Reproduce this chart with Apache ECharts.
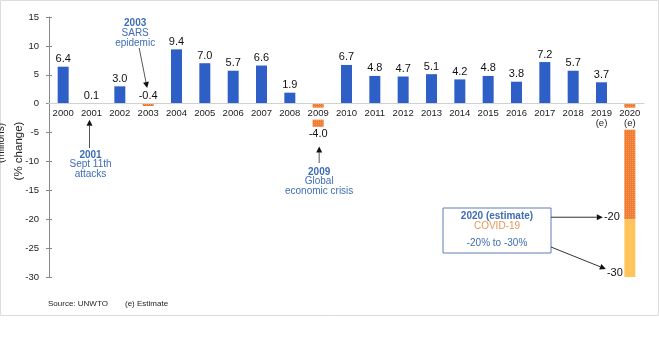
<!DOCTYPE html>
<html><head><meta charset="utf-8">
<script src="https://cdn.jsdelivr.net/npm/echarts@6/dist/echarts.min.js"></script>
<style>html,body{margin:0;padding:0;background:#fff}#c{width:659px;height:337px}</style>
</head><body><div id="c"></div>
<script>
// ---- data ----
const years = ['2000','2001','2002','2003','2004','2005','2006','2007','2008','2009','2010',
  '2011','2012','2013','2014','2015','2016','2017','2018','2019\n(e)','2020\n(e)'];
const growth = [6.4,0.1,3.0,null,9.4,7.0,5.7,6.6,1.9,null,6.7,4.8,4.7,5.1,4.2,4.8,3.8,7.2,5.7,3.7,null];
const declines = [null,null,null,-0.4,null,null,null,null,null,-4.0,null,null,null,null,null,null,null,null,null,null,-20];
const covidExtra = [null,null,null,null,null,null,null,null,null,null,null,null,null,null,null,null,null,null,null,null,-10];
const declineLabelPos = {3:'top', 9:'bottom'};
const yMin = -30, yMax = 15, yStep = 5;

const FONT = 'Liberation Sans, Arial, sans-serif';
const BLUE = '#2E5FC6';
const ORANGE = '#EF7A30';
const LIGHT = '#FFC55C';
const ANN = '#3E6DB5';

const chart = echarts.init(document.getElementById('c'));
const option = {
  animation: false,
  textStyle: {fontFamily: FONT},
  grid: {left: 49, right: 15, top: 17, bottom: 60, containLabel: false},
  xAxis: {
    type: 'category', data: years, z: 10,
    axisLine: {onZero: false, lineStyle: {color: '#d0d0d0', width: 1}},
    axisTick: {show: false},
    axisLabel: {color: '#222', fontSize: 9.5, margin: 4, lineHeight: 10,
      backgroundColor: '#fff', padding: [1, 0, 1, 0], interval: 0}
  },
  yAxis: [{
    type: 'value', min: yMin, max: yMax, interval: yStep,
    splitLine: {show: false},
    axisLine: {show: true, lineStyle: {color: '#888'}},
    axisTick: {show: true, length: 3, lineStyle: {color: '#888'}},
    axisLabel: {color: '#222', fontSize: 9.5, margin: 10}
  }, {
    type: 'value', min: yMin, max: yMax, interval: yStep, position: 'left',
    splitLine: {show: false},
    axisLine: {show: false},
    axisTick: {show: true, inside: true, length: 3, lineStyle: {color: '#888'}},
    axisLabel: {show: false}
  }],
  series: [{
    type: 'bar', stack: 's', data: growth, barWidth: 11,
    itemStyle: {color: BLUE},
    label: {show: true, position: 'top', distance: 2, color: '#111', fontSize: 11,
      formatter: p => p.value.toFixed(1)}
  }, {
    type: 'bar', stack: 's', barWidth: 11,
    data: declines.map((v, i) => ({
      value: v,
      label: declineLabelPos[i] ? {show: true, position: declineLabelPos[i]} : {show: false}
    })),
    itemStyle: {color: ORANGE,
      decal: {symbol: 'rect', symbolSize: 1, color: 'rgba(255,190,140,0.45)', dashArrayX: [1, 1], dashArrayY: [1, 1], rotation: 0}},
    label: {distance: 2, color: '#111', fontSize: 11, formatter: p => p.value.toFixed(1)}
  }, {
    type: 'bar', stack: 's', data: covidExtra, barWidth: 11,
    itemStyle: {color: LIGHT}
  }]
};
chart.setOption(option);

// move the category axis onto the zero line (labels included)
const zeroY = chart.convertToPixel({yAxisIndex: 0}, 0);
const bottomY = chart.convertToPixel({yAxisIndex: 0}, yMin);
chart.setOption({xAxis: {offset: -(bottomY - zeroY)}});

// ---- annotations anchored through the axes ----
const px = (cat, val) => chart.convertToPixel({gridIndex: 0}, [cat, val]);
function arrow(x1, y1, x2, y2, color) {
  const a = Math.atan2(y2 - y1, x2 - x1), L = 6, W = 3;
  const bx = x2 - L * Math.cos(a), by = y2 - L * Math.sin(a);
  return [
    {type: 'line', shape: {x1, y1, x2: bx, y2: by}, style: {stroke: color, lineWidth: 1}},
    {type: 'polygon', shape: {points: [[x2, y2],
      [bx + W * Math.sin(a), by - W * Math.cos(a)],
      [bx - W * Math.sin(a), by + W * Math.cos(a)]]}, style: {fill: '#111'}}
  ];
}
function txt(x, y, s, opt) {
  return Object.assign({type: 'text', x, y, style: Object.assign({text: s, fontFamily: FONT, fontSize: 10,
    fill: ANN, align: 'center', verticalAlign: 'middle'}, opt || {})});
}
const g = [];
// SARS
const p03 = px('2003', 2.7);
g.push(txt(p03[0] - 13, 23, '2003', {fontWeight: 'bold'}), txt(p03[0] - 13, 33, 'SARS'), txt(p03[0] - 13, 43, 'epidemic'));
g.push(...arrow(p03[0] - 9, 48, p03[0] - 1, p03[1], '#555'));
// 9/11
const p01 = px('2001', -2.8);
g.push(...arrow(p01[0] - 2, 148, p01[0] - 2, p01[1], '#555'));
g.push(txt(p01[0] - 1, 155, '2001', {fontWeight: 'bold'}), txt(p01[0] - 1, 164, 'Sept 11th'), txt(p01[0] - 1, 174, 'attacks'));
// 2009
const p09 = px('2009', -7.4);
g.push(...arrow(p09[0] + 1, 163, p09[0] + 1, p09[1], '#555'));
g.push(txt(p09[0] + 1, 172, '2009', {fontWeight: 'bold'}), txt(p09[0] + 1, 181, 'Global'), txt(p09[0] + 1, 191, 'economic crisis'));
// COVID box
g.push({type: 'rect', shape: {x: 443, y: 208, width: 108, height: 45},
  style: {fill: '#fff', stroke: '#5F7FB5', lineWidth: 1}});
g.push(txt(497, 216, '2020 (estimate)', {fontWeight: 'bold'}), txt(497, 226, 'COVID-19', {fill: '#E8955A'}),
  txt(497, 243, '-20% to -30%'));
const p20a = px('2020\n(e)', -20), p20b = px('2020\n(e)', -30);
g.push(...arrow(551, p20a[1] - 2, p20a[0] - 27, p20a[1] - 2, '#333'));
g.push(...arrow(551, 247, p20b[0] - 24, p20b[1] - 8, '#333'));
g.push(txt(p20a[0] - 18, p20a[1] - 2, '-20', {fill: '#111', fontSize: 11}));
g.push(txt(p20b[0] - 15, p20b[1] - 4, '-30', {fill: '#111', fontSize: 11}));
// axis titles
g.push({type: 'text', x: 19, y: 151, rotation: Math.PI / 2,
  style: {text: '(% change)', fontFamily: FONT, fontSize: 11.5, fill: '#222', align: 'center', verticalAlign: 'middle'}});
g.push({type: 'text', x: 1, y: 143, rotation: Math.PI / 2,
  style: {text: '(millions)', fontFamily: FONT, fontSize: 10, fill: '#222', align: 'center', verticalAlign: 'middle'}});
// footer
g.push({type: 'text', x: 48, y: 304, style: {text: 'Source: UNWTO', fontFamily: FONT, fontSize: 8, fill: '#222', verticalAlign: 'middle'}});
g.push({type: 'text', x: 125, y: 304, style: {text: '(e) Estimate', fontFamily: FONT, fontSize: 8, fill: '#222', verticalAlign: 'middle'}});
// frame
g.push({type: 'rect', shape: {x: 0.5, y: 0.5, width: 658, height: 315}, z: -1,
  style: {fill: 'none', stroke: '#dcdcdc', lineWidth: 1}});
chart.setOption({graphic: g});
</script></body></html>
